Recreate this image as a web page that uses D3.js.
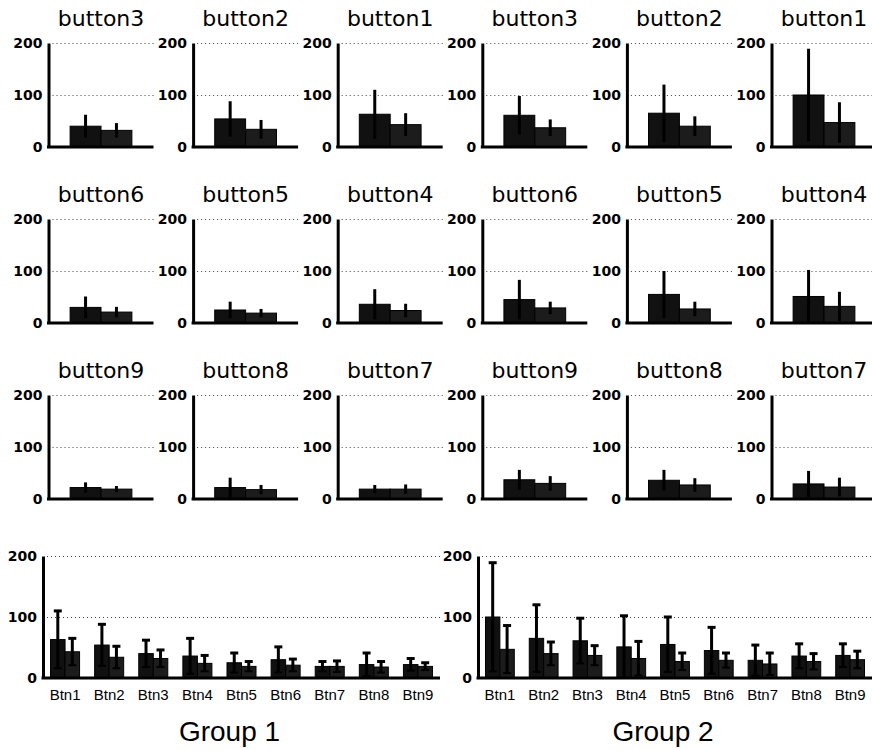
<!DOCTYPE html>
<html>
<head>
<meta charset="utf-8">
<script src="https://cdn.jsdelivr.net/npm/d3@7"></script>
<style>
    body { margin: 0; background: #fff; }
    svg { display: block; }
</style>
</head>
<body>
<div id="chart"></div>
<script>
// data (mean and sd of two series per button)
var buttons = ['Btn1', 'Btn2', 'Btn3', 'Btn4', 'Btn5', 'Btn6', 'Btn7', 'Btn8', 'Btn9'];
var groups = ['Group 1', 'Group 2'];
var series = ['s1', 's2'];

var g1Mean1 = [63, 54, 40, 36, 25, 30, 19, 22, 22];
var g1Sd1 = [47, 34, 22, 29, 16, 21, 8, 19, 10];
var g1Mean2 = [43, 34, 32, 24, 19, 21, 19, 18, 19];
var g1Sd2 = [22, 18, 14, 13, 8, 10, 9, 9, 6];

var g2Mean1 = [100, 65, 61, 51, 55, 45, 29, 36, 37];
var g2Sd1 = [89, 55, 37, 51, 45, 38, 25, 20, 19];
var g2Mean2 = [47, 40, 37, 32, 27, 29, 23, 27, 30];
var g2Sd2 = [39, 19, 16, 28, 14, 12, 18, 13, 14];

// small panels go 3,2,1 / 6,5,4 / 9,8,7 in each group
var panelOrder = [3, 2, 1, 6, 5, 4, 9, 8, 7];
var yTicks = [0, 100, 200];
var gridTicks = [100, 200];

var width = 872,
    height = 750;

var fills = { s1: '#111111', s2: '#1c1c1c' };

var svg = d3.select('#chart')
    .append('svg')
    .attr('width', width)
    .attr('height', height);

function groupData(gi) {
    var m1 = gi == 0 ? g1Mean1 : g2Mean1,
        s1 = gi == 0 ? g1Sd1 : g2Sd1,
        m2 = gi == 0 ? g1Mean2 : g2Mean2,
        s2 = gi == 0 ? g1Sd2 : g2Sd2;
    return buttons.map(function(b, i) {
        return {
            button: b,
            num: i + 1,
            values: [
                { key: 's1', mean: m1[i], sd: s1[i] },
                { key: 's2', mean: m2[i], sd: s2[i] }
            ]
        };
    });
}

function drawFrame(g, w, h, y, labelSize) {
    // dotted grid
    g.selectAll('.grid')
        .data(gridTicks)
        .enter()
        .append('line')
        .attr('class', 'grid')
        .attr('x1', 4)
        .attr('x2', w)
        .attr('y1', function(d) { return Math.round(y(d)) + 0.5; })
        .attr('y2', function(d) { return Math.round(y(d)) + 0.5; })
        .attr('stroke', '#444')
        .attr('stroke-width', 1)
        .attr('stroke-dasharray', '1,3');

    var axis = d3.axisLeft(y)
        .tickValues(yTicks)
        .tickSize(0)
        .tickPadding(6)
        .tickFormat(d3.format('d'));

    var ax = g.append('g').call(axis);
    ax.select('.domain')
        .attr('stroke', '#000')
        .attr('stroke-width', 3);
    ax.selectAll('text')
        .attr('fill', '#000')
        .style('font-family', 'DejaVu Sans, sans-serif')
        .style('font-weight', 'bold')
        .style('font-size', labelSize + 'px');

    return ax;
}

function drawBars(g, data, xPos, inner, y, capW) {
    var cat = g.selectAll('.cat')
        .data(data)
        .enter()
        .append('g')
        .attr('class', 'cat')
        .attr('transform', function(d) { return 'translate(' + xPos(d) + ',0)'; });

    cat.selectAll('rect')
        .data(function(d) { return d.values; })
        .enter()
        .append('rect')
        .attr('x', function(d) { return inner(d.key); })
        .attr('width', inner.bandwidth())
        .attr('y', function(d) { return y(d.mean); })
        .attr('height', function(d) { return y(0) - y(d.mean); })
        .attr('fill', function(d) { return fills[d.key]; })
        .attr('stroke', '#000')
        .attr('stroke-width', 1);

    var err = cat.selectAll('.err')
        .data(function(d) { return d.values; })
        .enter()
        .append('g')
        .attr('class', 'err')
        .attr('transform', function(d) {
            return 'translate(' + (inner(d.key) + inner.bandwidth() / 2) + ',0)';
        });

    err.append('line')
        .attr('y1', function(d) { return y(Math.max(0, d.mean - d.sd)); })
        .attr('y2', function(d) { return y(d.mean + d.sd); })
        .attr('stroke', '#000')
        .attr('stroke-width', 3);

    if (capW > 0) {
        err.append('line')
            .attr('x1', -capW / 2)
            .attr('x2', capW / 2)
            .attr('y1', function(d) { return y(d.mean + d.sd); })
            .attr('y2', function(d) { return y(d.mean + d.sd); })
            .attr('stroke', '#000')
            .attr('stroke-width', 3);
        err.append('line')
            .attr('x1', -capW / 2)
            .attr('x2', capW / 2)
            .attr('y1', function(d) { return y(Math.max(0, d.mean - d.sd)); })
            .attr('y2', function(d) { return y(Math.max(0, d.mean - d.sd)); })
            .attr('stroke', '#000')
            .attr('stroke-width', 2);
    }
}

// ---- small panels, one per button ----
var smallW = 105,
    smallH = 104;

var ySmall = d3.scaleLinear().domain([0, 200]).range([smallH, 0]);
var innerSmall = d3.scaleBand()
    .domain(series)
    .range([0, smallW])
    .paddingInner(0)
    .paddingOuter(0.7);

groups.forEach(function(gname, gi) {
    var data = groupData(gi);

    panelOrder.forEach(function(num, k) {
        var col = gi * 3 + (k % 3),
            row = Math.floor(k / 3);
        var px = 48.5 + 144.6 * col,
            py = 43 + 176 * row;
        var d = data[num - 1];

        var g = svg.append('g')
            .attr('transform', 'translate(' + px + ',' + py + ')');

        drawFrame(g, smallW, smallH, ySmall, 14);

        drawBars(g, [d], function() { return 0; }, innerSmall, ySmall, 0);

        g.append('line')
            .attr('x1', -1.5)
            .attr('x2', smallW)
            .attr('y1', ySmall(0))
            .attr('y2', ySmall(0))
            .attr('stroke', '#000')
            .attr('stroke-width', 3);

        g.append('text')
            .attr('x', smallW / 2)
            .attr('y', -17)
            .attr('text-anchor', 'middle')
            .style('font-family', 'DejaVu Sans, sans-serif')
            .style('font-size', '22px')
            .text('button' + num);
    });
});

// ---- bottom summary panels ----
var bigH = 122;
var yBig = d3.scaleLinear().domain([0, 200]).range([bigH, 0]);
var bigPanels = [
    { x: 43, w: 397 },
    { x: 478, w: 394 }
];

groups.forEach(function(gname, gi) {
    var p = bigPanels[gi];
    var data = groupData(gi);

    var x = d3.scaleBand()
        .domain(buttons)
        .range([0, p.w])
        .padding(0);

    var inner = d3.scaleBand()
        .domain(series)
        .range([0, x.bandwidth()])
        .paddingInner(0)
        .paddingOuter(0.52);

    var g = svg.append('g')
        .attr('transform', 'translate(' + p.x + ',556)');

    drawFrame(g, p.w, bigH, yBig, 14);

    drawBars(g, data, function(d) { return x(d.button); }, inner, yBig, 8);

    g.append('line')
        .attr('x1', -1.5)
        .attr('x2', p.w)
        .attr('y1', yBig(0))
        .attr('y2', yBig(0))
        .attr('stroke', '#000')
        .attr('stroke-width', 3);

    g.selectAll('.xlabel')
        .data(buttons)
        .enter()
        .append('text')
        .attr('class', 'xlabel')
        .attr('x', function(d) { return x(d) + x.bandwidth() / 2; })
        .attr('y', bigH + 22)
        .attr('text-anchor', 'middle')
        .style('font-family', 'Liberation Sans, Arial, sans-serif')
        .style('font-size', '15px')
        .text(function(d) { return d; });

    g.append('text')
        .attr('x', p.w / 2 - 12)
        .attr('y', bigH + 63)
        .attr('text-anchor', 'middle')
        .style('font-family', 'Liberation Sans, Arial, sans-serif')
        .style('font-size', '28px')
        .text(gname);
});
</script>
</body>
</html>
